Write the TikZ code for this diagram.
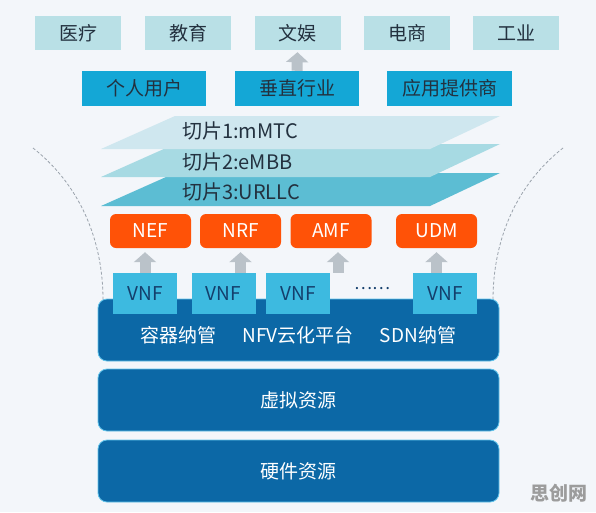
\documentclass[tikz,border=0pt]{standalone}
\usepackage{fontspec}
\setmainfont{Noto Sans CJK SC}
\usetikzlibrary{arrows.meta}

\definecolor{bgcol}{HTML}{F3F6FA}
\definecolor{tealbox}{HTML}{B9E0E6}
\definecolor{cyanbox}{HTML}{14A7D6}
\definecolor{slicea}{HTML}{CFE7EF}
\definecolor{sliceb}{HTML}{A7DAE3}
\definecolor{slicec}{HTML}{5CBDD3}
\definecolor{nfcol}{HTML}{FF5207}
\definecolor{vnfcol}{HTML}{3DBAE0}
\definecolor{corecol}{HTML}{0C68A6}
\definecolor{edgecol}{HTML}{62C4EA}
\definecolor{arrcol}{HTML}{BAC2C9}
\definecolor{guidecol}{HTML}{9AA3AC}
\definecolor{inkcol}{HTML}{23313F}
\definecolor{navycol}{HTML}{143F6C}
\definecolor{markcol}{HTML}{9C9C9C}

\tikzset{
  txt/.style={font=\fontsize{19}{22}\selectfont},
  scenebox/.style={txt, fill=tealbox, text=inkcol, minimum width=86pt, minimum height=34pt, inner sep=0pt},
  userbox/.style={txt, fill=cyanbox, text=inkcol, minimum width=124.5pt, minimum height=35pt, inner sep=0pt},
  nfbox/.style={txt, fill=nfcol, text=white, rounded corners=6pt, minimum width=81pt, minimum height=34pt, inner sep=0pt},
  vnfbox/.style={txt, fill=vnfcol, text=navycol, minimum width=64pt, minimum height=41pt, inner sep=0pt},
  layerbox/.style={txt, fill=corecol, draw=edgecol, line width=0.8pt, rounded corners=9pt, minimum width=401pt, minimum height=62pt, inner sep=0pt, text=white},
  corelbl/.style={txt, text=white, inner sep=0pt},
  slicelbl/.style={font=\fontsize{20}{23}\selectfont, anchor=west, text=inkcol, inner sep=0pt},
  uparrow/.style={draw=arrcol, line width=11pt, -{Triangle[width=22pt,length=10pt]}},
  guide/.style={draw=guidecol, dash pattern=on 3pt off 2pt, line width=0.8pt}
}

\begin{document}
\begin{tikzpicture}[x=1pt, y=-1pt]
\fill[bgcol] (0,0) rectangle (596,512);
\useasboundingbox (0,0) rectangle (596,512);
%guides
\draw[guide] (33,148) .. controls (80,185) and (103,240) .. (103,300);
\draw[guide] (563,148) .. controls (516,185) and (493,240) .. (493,300);
%scenes
\node[scenebox] (med) at (78,33) {医疗};
\node[scenebox] (edu) at (188,33) {教育};
\node[scenebox] (ent) at (297.5,33) {文娱};
\node[scenebox] (shop) at (407,33) {电商};
\node[scenebox] (ind) at (516,33) {工业};
%users
\node[userbox] (usr) at (144,88.5) {个人用户};
\node[userbox] (vert) at (297,88.5) {垂直行业};
\node[userbox] (app) at (449.5,88.5) {应用提供商};
\draw[uparrow, shorten >=2pt] (vert.north) -- (ent.south);
%slices
\fill[slicec] (175,173) -- (500,173) -- (430,206) -- (101,206) -- cycle;
\fill[sliceb] (175,144) -- (500,144) -- (430,177) -- (101,177) -- cycle;
\fill[slicea] (175,116) -- (500,116) -- (430,149) -- (101,149) -- cycle;
\node[slicelbl] (sla) at (182,131) {切片1:mMTC};
\node[slicelbl] (slb) at (182,162) {切片2:eMBB};
\node[slicelbl] (slc) at (182,192) {切片3:URLLC};
%network functions
\node[nfbox] (nef) at (150.5,231) {NEF};
\node[nfbox] (nrf) at (240.5,231) {NRF};
\node[nfbox] (amf) at (331,231) {AMF};
\node[nfbox] (udm) at (436.5,231) {UDM};
%layers
\node[layerbox] (core) at (298.5,330) {};
\node[layerbox] (virt) at (298.5,400) {虚拟资源};
\node[layerbox] (hw) at (298.5,471) {硬件资源};
\node[corelbl] (ctr) at (178.6,335) {容器纳管};
\node[corelbl] (nfv) at (298,335) {NFV云化平台};
\node[corelbl] (sdn) at (418,335) {SDN纳管};
%vnf
\node[vnfbox] (vnfa) at (145,293.5) {VNF};
\node[vnfbox] (vnfb) at (223.5,293.5) {VNF};
\node[vnfbox] (vnfc) at (298,293.5) {VNF};
\node[vnfbox] (vnfd) at (445,293.5) {VNF};
\node[font=\fontsize{17}{20}\selectfont, text=navycol, inner sep=0pt] (dots) at (372,289) {……};
\draw[uparrow, shorten >=4pt] (vnfa.north) -- (vnfa.north |- nef.south);
\draw[uparrow, shorten >=4pt] (nrf.south |- vnfb.north) -- (nrf.south);
\draw[uparrow, shorten >=4pt] ([xshift=7pt]amf.south |- vnfc.north) -- ([xshift=7pt]amf.south);
\draw[uparrow, shorten >=4pt] (udm.south |- vnfd.north) -- (udm.south);
%mark
\node[font=\fontsize{19}{22}\selectfont\bfseries, text=markcol, inner sep=0pt] (mark) at (559,493) {思创网};
\end{tikzpicture}
\end{document}
